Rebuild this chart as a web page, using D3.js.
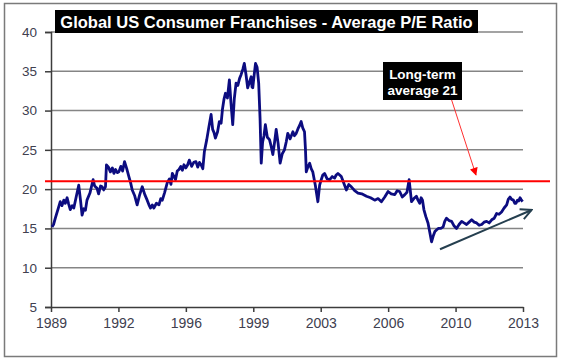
<!DOCTYPE html>
<html>
<head>
    <script src="https://cdnjs.cloudflare.com/ajax/libs/d3/7.8.5/d3.min.js"></script>
    <style>
        body { margin: 0; background: #fff; }
        text { font-family: Arial, "Liberation Sans", sans-serif; }
    </style>
</head>
<body>
    <div id="chart"></div>
    <script>
        // Data
        const years = [
            1989.05, 1989.13, 1989.22, 1989.35, 1989.47, 1989.56, 1989.65, 1989.73, 1989.82, 1989.9,
            1989.98, 1990.08, 1990.16, 1990.28, 1990.41, 1990.5, 1990.58, 1990.67, 1990.75, 1990.83,
            1990.98, 1991.14, 1991.22, 1991.34, 1991.42, 1991.52, 1991.6, 1991.68, 1991.77, 1991.82,
            1991.92, 1992.02, 1992.12, 1992.2, 1992.28, 1992.37, 1992.45, 1992.55, 1992.64, 1992.74,
            1992.85, 1992.96, 1993.05, 1993.13, 1993.25, 1993.38, 1993.5, 1993.64, 1993.77, 1993.89,
            1993.98, 1994.06, 1994.15, 1994.23, 1994.36, 1994.49, 1994.58, 1994.66, 1994.78, 1994.91,
            1995.02, 1995.1, 1995.17, 1995.33, 1995.42, 1995.51, 1995.6, 1995.68, 1995.76, 1995.86,
            1995.95, 1996.03, 1996.15, 1996.26, 1996.37, 1996.46, 1996.55, 1996.63, 1996.72, 1996.8,
            1996.92, 1997.02, 1997.14, 1997.22, 1997.29, 1997.36, 1997.47, 1997.56, 1997.65, 1997.72,
            1997.8, 1997.87, 1997.97, 1998.07, 1998.15, 1998.24, 1998.32, 1998.41, 1998.5, 1998.59,
            1998.67, 1998.76, 1998.83, 1998.92, 1999.0, 1999.09, 1999.18, 1999.22, 1999.26, 1999.33,
            1999.4, 1999.48, 1999.56, 1999.63, 1999.69, 1999.76, 1999.83, 1999.9, 2000.0, 2000.11,
            2000.19, 2000.28, 2000.37, 2000.45, 2000.55, 2000.65, 2000.76, 2000.87, 2000.96, 2001.04,
            2001.16, 2001.3, 2001.38, 2001.47, 2001.56, 2001.64, 2001.72, 2001.8, 2001.89, 2001.94,
            2001.98, 2002.06, 2002.15, 2002.23, 2002.31, 2002.44, 2002.57, 2002.66, 2002.74, 2002.82,
            2002.91, 2003.04, 2003.17, 2003.3, 2003.42, 2003.5, 2003.59, 2003.68, 2003.76, 2003.88,
            2004.02, 2004.14, 2004.27, 2004.44, 2004.61, 2004.8, 2005.04, 2005.25, 2005.46, 2005.63,
            2005.8, 2005.97, 2006.14, 2006.3, 2006.48, 2006.6, 2006.73, 2006.86, 2006.99, 2007.1,
            2007.21, 2007.33, 2007.45, 2007.58, 2007.66, 2007.75, 2007.82, 2007.89, 2007.96, 2008.06,
            2008.17, 2008.26, 2008.35, 2008.43, 2008.52, 2008.6, 2008.69, 2008.82, 2008.94, 2009.02,
            2009.11, 2009.24, 2009.37, 2009.5, 2009.62, 2009.75, 2009.88, 2010.0, 2010.13, 2010.26,
            2010.39, 2010.52, 2010.64, 2010.77, 2010.9, 2011.02, 2011.15, 2011.28, 2011.41, 2011.54,
            2011.66, 2011.78, 2011.91, 2012.04, 2012.17, 2012.25, 2012.34, 2012.42, 2012.51, 2012.58,
            2012.64, 2012.72, 2012.78, 2012.85, 2012.92, 2012.98
        ];
        const peRatio = [
            15.2, 15.5, 16.3, 17.4, 18.4, 17.9, 18.6, 18.2, 18.9, 18.1,
            17.4, 17.9, 17.6, 19.0, 20.5, 18.6, 16.7, 17.5, 17.3, 18.6,
            19.5, 21.2, 20.4, 20.1, 19.4, 20.4, 20.3, 19.9, 20.3, 23.1,
            22.8, 22.2, 22.7, 22.0, 22.5, 22.1, 22.2, 22.9, 22.3, 23.5,
            22.6, 21.6, 20.8, 19.9, 19.2, 18.0, 19.2, 20.3, 19.3, 18.6,
            18.0, 17.6, 18.0, 17.6, 18.2, 18.0, 18.8, 18.6, 19.6, 20.8,
            21.3, 20.6, 22.0, 21.2, 22.3, 22.5, 22.9, 22.4, 23.1, 22.7,
            23.1, 23.7, 22.9, 23.4, 23.5, 22.8, 23.4, 23.1, 22.6, 24.8,
            26.3, 27.8, 29.5, 27.6, 27.2, 26.5, 27.3, 28.6, 28.4, 30.2,
            31.5, 32.2, 31.6, 33.9, 31.0, 28.2, 31.5, 33.5, 33.2, 34.1,
            34.6, 35.3, 36.0, 34.5, 32.9, 33.6, 34.3, 33.0, 32.9, 34.5,
            36.0, 35.5, 33.5, 29.0, 23.3, 26.0, 26.8, 28.2, 26.6, 26.3,
            25.5, 24.4, 26.0, 27.6, 25.8, 23.3, 24.5, 25.0, 26.0, 27.1,
            26.4, 27.3, 26.8, 27.1, 27.7, 28.1, 28.6, 27.8, 27.3, 25.0,
            22.2, 22.8, 23.3, 22.6, 22.2, 20.5, 18.4, 20.5, 21.2, 21.8,
            22.0, 21.3, 21.2, 21.6, 21.4, 21.8, 22.0, 21.8, 21.6, 20.8,
            19.9, 20.6, 20.3, 19.8, 19.5, 19.4, 19.1, 18.9, 18.6, 18.8,
            18.4, 19.0, 19.7, 19.4, 19.3, 19.8, 19.7, 19.0, 19.3, 19.6,
            21.2, 18.4, 18.8, 19.1, 18.6, 18.2, 18.9, 18.6, 17.4, 16.5,
            15.7, 14.5, 13.3, 14.0, 14.6, 14.8, 15.0, 15.0, 15.2, 15.9,
            16.3, 16.0, 15.9, 15.3, 15.0, 15.5, 15.9, 15.7, 15.5, 15.8,
            16.1, 15.8, 15.7, 15.4, 15.5, 15.8, 15.9, 15.7, 16.1, 16.3,
            16.9, 16.8, 17.1, 17.6, 18.0, 18.7, 19.0, 18.7, 18.6, 18.2,
            18.2, 18.6, 18.5, 18.9, 18.6, 18.4
        ];
        const yTicks = [5, 10, 15, 20, 25, 30, 35, 40];
        const xTickLabels = ["1989", "1992", "1996", "1999", "2003", "2006", "2010", "2013"];
        const longTermAverage = 21;
        // annotation arrows, in data units: [year, value]
        const trendArrow = [[2008.78, 12.35], [2013.44, 17.35]];
        const averageArrow = [[2009.37, 31.35], [2010.61, 21.8]];
        const titleText = "Global US Consumer Franchises - Average P/E Ratio";
        const noteLines = ["Long-term", "average 21"];

        const width = 561;
        const height = 362;

        const svg = d3.select("#chart")
            .append("svg")
            .attr("width", width)
            .attr("height", height);

        const x = d3.scaleLinear().domain([1989, 2013]).range([51, 523]);
        const y = d3.scaleLinear().domain([5, 40]).range([307, 32]);

        // outer frame
        svg.append("rect")
            .attr("x", 4.5).attr("y", 3.5)
            .attr("width", 552).attr("height", 353)
            .attr("fill", "none")
            .attr("stroke", "#7a7a7a")
            .attr("stroke-width", 1.5);

        // horizontal gridlines
        svg.append("g")
            .selectAll("line")
            .data(yTicks.slice(1))
            .join("line")
            .attr("x1", x(1989)).attr("x2", x(2013))
            .attr("y1", d => y(d)).attr("y2", d => y(d))
            .attr("stroke", "#858585")
            .attr("stroke-width", 1.5);

        // y axis
        const yAxis = svg.append("g")
            .attr("transform", `translate(${x(1989)},0)`)
            .call(d3.axisLeft(y).tickValues(yTicks).tickSize(6).tickPadding(8));
        yAxis.select(".domain").attr("stroke", "#3c3c3c").attr("stroke-width", 1.5);
        yAxis.selectAll(".tick line").attr("stroke", "#3c3c3c").attr("stroke-width", 1.5);
        yAxis.selectAll(".tick text")
            .attr("fill", "#40404f")
            .style("font-size", "13.5px")
            .style("font-family", "Arial, 'Liberation Sans', sans-serif");

        // x axis with evenly spaced category-style ticks
        const xTickValues = xTickLabels.map((d, i) => 1989 + i * 24 / (xTickLabels.length - 1));
        const xAxis = svg.append("g")
            .attr("transform", `translate(0,${y(5)})`)
            .call(d3.axisBottom(x)
                .tickValues(xTickValues)
                .tickFormat((d, i) => xTickLabels[i])
                .tickSize(5)
                .tickSizeOuter(0)
                .tickPadding(6));
        xAxis.select(".domain").attr("stroke", "#3c3c3c").attr("stroke-width", 1.5);
        xAxis.selectAll(".tick line").attr("stroke", "#3c3c3c").attr("stroke-width", 1.5);
        xAxis.selectAll(".tick text")
            .attr("fill", "#40404f")
            .style("font-size", "14px")
            .style("font-family", "Arial, 'Liberation Sans', sans-serif");

        // P/E series
        const series = years.map((d, i) => [d, peRatio[i]]);
        svg.append("path")
            .datum(series)
            .attr("fill", "none")
            .attr("stroke", "#0c0c80")
            .attr("stroke-width", 2.8)
            .attr("stroke-linejoin", "round")
            .attr("d", d3.line().x(d => x(d[0])).y(d => y(d[1])));

        // long-term average line
        svg.append("line")
            .attr("x1", 45).attr("x2", 550)
            .attr("y1", y(longTermAverage)).attr("y2", y(longTermAverage))
            .attr("stroke", "#ff0000")
            .attr("stroke-width", 2);

        // arrow markers
        const defs = svg.append("defs");
        defs.append("marker")
            .attr("id", "redHead")
            .attr("viewBox", "0 0 10 10")
            .attr("refX", 9).attr("refY", 5)
            .attr("markerWidth", 9).attr("markerHeight", 8)
            .attr("markerUnits", "userSpaceOnUse")
            .attr("orient", "auto")
            .append("path")
            .attr("d", "M0,0L10,5L0,10Z")
            .attr("fill", "#ff0000");
        defs.append("marker")
            .attr("id", "openHead")
            .attr("viewBox", "0 0 12 12")
            .attr("refX", 11).attr("refY", 6)
            .attr("markerWidth", 13).attr("markerHeight", 13)
            .attr("markerUnits", "userSpaceOnUse")
            .attr("orient", "auto")
            .append("path")
            .attr("d", "M1,1L11,6L1,11")
            .attr("fill", "none")
            .attr("stroke", "#253f4f")
            .attr("stroke-width", 1.8);

        svg.append("line")
            .attr("x1", x(averageArrow[0][0])).attr("y1", y(averageArrow[0][1]))
            .attr("x2", x(averageArrow[1][0])).attr("y2", y(averageArrow[1][1]))
            .attr("stroke", "#ff3030")
            .attr("stroke-width", 1)
            .attr("marker-end", "url(#redHead)");

        svg.append("line")
            .attr("x1", x(trendArrow[0][0])).attr("y1", y(trendArrow[0][1]))
            .attr("x2", x(trendArrow[1][0])).attr("y2", y(trendArrow[1][1]))
            .attr("stroke", "#253f4f")
            .attr("stroke-width", 2)
            .attr("marker-end", "url(#openHead)");

        // note box
        const note = svg.append("g");
        note.append("rect")
            .attr("x", 383).attr("y", 62)
            .attr("width", 79).attr("height", 38)
            .attr("fill", "#000");
        note.selectAll("text")
            .data(noteLines)
            .join("text")
            .attr("x", 422.5)
            .attr("y", (d, i) => 79 + i * 16)
            .attr("text-anchor", "middle")
            .attr("fill", "#fff")
            .style("font-weight", "bold")
            .style("font-size", "13.5px")
            .text(d => d);

        // title box
        svg.append("rect")
            .attr("x", 55).attr("y", 10)
            .attr("width", 423).attr("height", 23)
            .attr("fill", "#000");
        svg.append("text")
            .attr("x", 266.5).attr("y", 27.5)
            .attr("text-anchor", "middle")
            .attr("fill", "#fff")
            .style("font-weight", "bold")
            .style("font-size", "16.5px")
            .text(titleText);
    </script>
</body>
</html>
